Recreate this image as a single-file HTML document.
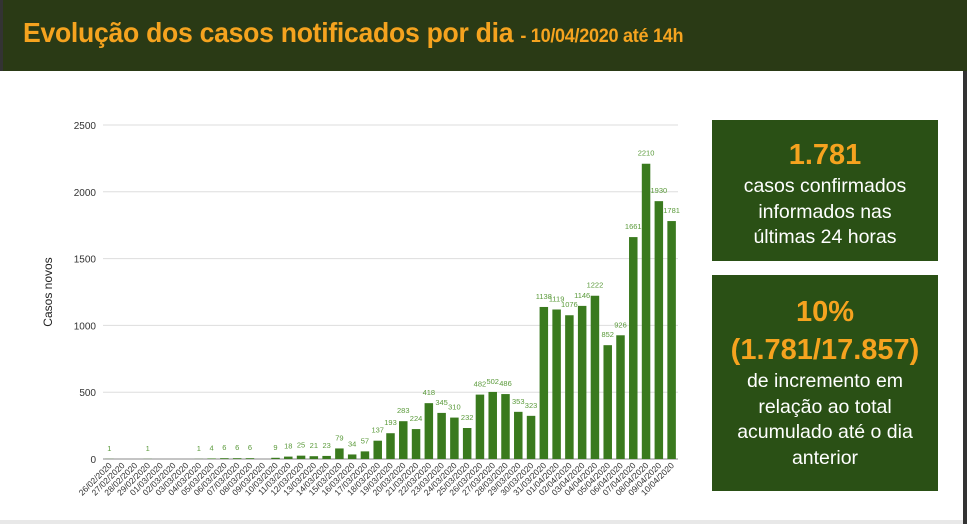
<!DOCTYPE html>
<html><head><meta charset="utf-8"><style>
body{margin:0;width:967px;height:524px;position:relative;background:#fff;overflow:hidden;font-family:"Liberation Sans",sans-serif}
#hdr{position:absolute;left:0;top:0;width:967px;height:71px;background:#2a3a15;border-left:3px solid #333;box-sizing:border-box}
#title{position:absolute;left:20px;top:17px;color:#f5a31f;font-weight:bold;font-size:28px;letter-spacing:-0.3px;white-space:nowrap;transform:scaleX(0.95);transform-origin:left}
#title span{font-size:19px}
.box{position:absolute;left:712px;width:226px;background:#2a5015;color:#fff;text-align:center}
.big{color:#f5a31f;font-weight:bold;font-size:29px;line-height:38px}
.sm{font-size:19.5px;line-height:25.5px}
#redge{position:absolute;left:963px;top:71px;width:4px;height:453px;background:#333}
#bedge{position:absolute;left:0;top:520px;width:963px;height:4px;background:#e8e8e8}
</style></head><body>
<div id="hdr"><div id="title">Evolução dos casos notificados por dia <span>- 10/04/2020 até 14h</span></div></div>
<div id="redge"></div>
<div id="bedge"></div>
<svg id="chart" width="700" height="524" style="position:absolute;left:0;top:0"></svg>
<div class="box" style="top:120px;height:141px;padding-top:16px;box-sizing:border-box">
<div class="big">1.781</div>
<div class="sm">casos confirmados<br>informados nas<br>últimas 24 horas</div></div>
<div class="box" style="top:275px;height:216px;padding-top:18px;box-sizing:border-box">
<div class="big">10%<br>(1.781/17.857)</div>
<div class="sm">de incremento em<br>relação ao total<br>acumulado até o dia<br>anterior</div></div>
<script>
const dates=["26/02/2020","27/02/2020","28/02/2020","29/02/2020","01/03/2020","02/03/2020","03/03/2020","04/03/2020","05/03/2020","06/03/2020","07/03/2020","08/03/2020","09/03/2020","10/03/2020","11/03/2020","12/03/2020","13/03/2020","14/03/2020","15/03/2020","16/03/2020","17/03/2020","18/03/2020","19/03/2020","20/03/2020","21/03/2020","22/03/2020","23/03/2020","24/03/2020","25/03/2020","26/03/2020","27/03/2020","28/03/2020","29/03/2020","30/03/2020","31/03/2020","01/04/2020","02/04/2020","03/04/2020","04/04/2020","05/04/2020","06/04/2020","07/04/2020","08/04/2020","09/04/2020","10/04/2020"];
const cases=[1,0,0,1,0,0,0,1,4,6,6,6,0,9,18,25,21,23,79,34,57,137,193,283,224,418,345,310,232,482,502,486,353,323,1138,1119,1076,1146,1222,852,926,1661,2210,1930,1781];
const yTicks=[0,500,1000,1500,2000,2500];
const NS="http://www.w3.org/2000/svg";
const svg=document.getElementById('chart');
const y0=459,y1=125,yMax=2500,xL=103,xR=678;
const y=v=>y0-(v/yMax)*(y0-y1);
const step=(xR-xL)/dates.length;
const x=i=>xL+step*(i+0.5);
function mk(t,a){const e=document.createElementNS(NS,t);for(const k in a)e.setAttribute(k,a[k]);svg.appendChild(e);return e;}
yTicks.forEach(v=>{
 const l=mk('line',{x1:xL,x2:xR,y1:y(v),y2:y(v),stroke:v===0?'#888':'#ddd','stroke-width':1});
 
 
 const t=mk('text',{x:96,y:y(v)+4,'text-anchor':'end','font-size':10,fill:'#333'});t.textContent=v;
 
 
});
const yt=mk('text',{x:52,y:292,'text-anchor':'middle','font-size':12,fill:'#222',transform:'rotate(-90 52 292)'});yt.textContent='Casos novos';


const bw=8.5;
cases.forEach((v,i)=>{
 if(v>0){const r=mk('rect',{x:x(i)-bw/2,y:y(v),width:bw,height:y0-y(v),fill:'#3a7a1e'});
 
 
 const t=mk('text',{x:x(i),y:y(v)-8,'text-anchor':'middle','font-size':7.5,fill:'#5a9a3a'});t.textContent=v;
 
 }
 const d=mk('text',{x:x(i)+3,y:y0+7,'text-anchor':'end','font-size':8.5,fill:'#333',transform:'rotate(-45 '+(x(i)+3)+' '+(y0+7)+')'});d.textContent=dates[i];
 
 
});
</script>
</body></html>
